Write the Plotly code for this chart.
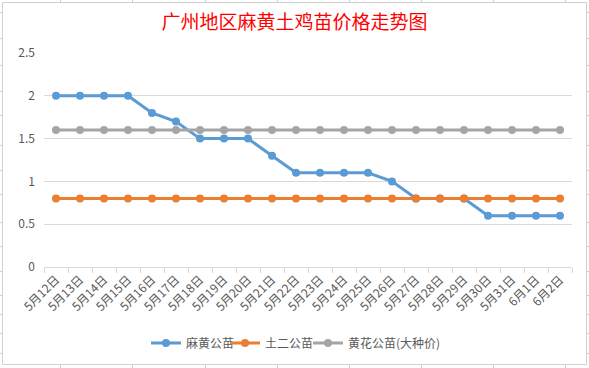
import plotly.graph_objects as go

dates = ["5月12日", "5月13日", "5月14日", "5月15日", "5月16日", "5月17日", "5月18日",
         "5月19日", "5月20日", "5月21日", "5月22日", "5月23日", "5月24日", "5月25日",
         "5月26日", "5月27日", "5月28日", "5月29日", "5月30日", "5月31日", "6月1日", "6月2日"]
mahuang = [2, 2, 2, 2, 1.8, 1.7, 1.5, 1.5, 1.5, 1.3, 1.1, 1.1, 1.1, 1.1, 1.0,
           0.8, 0.8, 0.8, 0.6, 0.6, 0.6, 0.6]
tuer = [0.8] * 22
huanghua = [1.6] * 22

series_names = ["麻黄公苗", "土二公苗", "黄花公苗(大种价)"]
colors = ["#5B9BD5", "#ED7D31", "#A5A5A5"]

W, H = 589, 368
L, R, T, B = 44, 572, 53, 267  # plot area in pixels

def px(x):
    return (x - L) / (R - L)

def py(y):
    return (B - y) / (B - T)

legend_ids = ["legend", "legend2", "legend3"]
legend_x = [146, 225, 308]

fig = go.Figure()
for name, vals, c, lg in zip(series_names, [mahuang, tuer, huanghua], colors, legend_ids):
    fig.add_trace(go.Scatter(
        x=dates, y=vals, name=name, mode="lines+markers",
        line=dict(color=c, width=3),
        marker=dict(color=c, size=8, symbol="circle"),
        legend=lg,
    ))

font = "Noto Sans CJK SC, Microsoft YaHei, sans-serif"
grey = "#595959"

shapes = [
    dict(type="rect", xref="paper", yref="paper",
         x0=px(2.5), x1=px(586.5), y0=py(364.5), y1=py(2.5),
         line=dict(color="#d0d0d0", width=1), fillcolor="rgba(0,0,0,0)", layer="below"),
]
for cx in [60, 132, 205, 277, 349, 421, 493, 565]:
    shapes.append(dict(type="line", xref="paper", yref="paper",
                       x0=px(cx + 0.5), x1=px(cx + 0.5), y0=py(0), y1=py(2),
                       line=dict(color="#d0d0d0", width=1)))
    shapes.append(dict(type="line", xref="paper", yref="paper",
                       x0=px(cx + 0.5), x1=px(cx + 0.5), y0=py(365), y1=py(368),
                       line=dict(color="#d0d0d0", width=1)))
for ry in [12, 38, 65, 91, 115, 145, 170, 194, 222, 246, 271, 295, 314, 333, 353]:
    shapes.append(dict(type="line", xref="paper", yref="paper",
                       x0=px(0), x1=px(2), y0=py(ry + 0.5), y1=py(ry + 0.5),
                       line=dict(color="#d0d0d0", width=1)))
    shapes.append(dict(type="line", xref="paper", yref="paper",
                       x0=px(587), x1=px(589), y0=py(ry + 0.5), y1=py(ry + 0.5),
                       line=dict(color="#d0d0d0", width=1)))

legend_common = dict(orientation="h", xanchor="left", y=py(343), yanchor="middle",
                     font=dict(size=12, color=grey), itemwidth=30,
                     bgcolor="rgba(0,0,0,0)", borderwidth=0)

fig.update_layout(
    width=W, height=H,
    margin=dict(l=L, r=W - R, t=T, b=H - B, pad=0, autoexpand=False),
    paper_bgcolor="white", plot_bgcolor="white",
    font=dict(family=font, size=12, color=grey),
    title=dict(text="广州地区麻黄土鸡苗价格走势图", x=0.5, xref="container",
               xanchor="center", y=1 - 22 / H, yanchor="middle", yref="container",
               font=dict(family=font, size=19, color="#FF0000")),
    showlegend=True,
    legend=dict(x=px(legend_x[0]), **legend_common),
    legend2=dict(x=px(legend_x[1]), **legend_common),
    legend3=dict(x=px(legend_x[2]), **legend_common),
    xaxis=dict(
        type="category", tickangle=-45, showgrid=False, automargin=False,
        showline=True, linecolor="#d9d9d9", linewidth=1,
        ticks="outside", ticklen=5, tickcolor="#d9d9d9", tickson="boundaries",
        tickfont=dict(size=12, color=grey), range=[-0.5, 21.5],
    ),
    yaxis=dict(
        range=[0, 2.5], dtick=0.5, showgrid=True, gridcolor="#d9d9d9", gridwidth=1,
        zeroline=False, showline=False, ticks="", ticklabelstandoff=8, automargin=False,
        tickfont=dict(size=12, color=grey),
    ),
    shapes=shapes,
)

fig.write_html("out.html", config={"displayModeBar": False},
               post_script="document.body.style.margin='0';")
